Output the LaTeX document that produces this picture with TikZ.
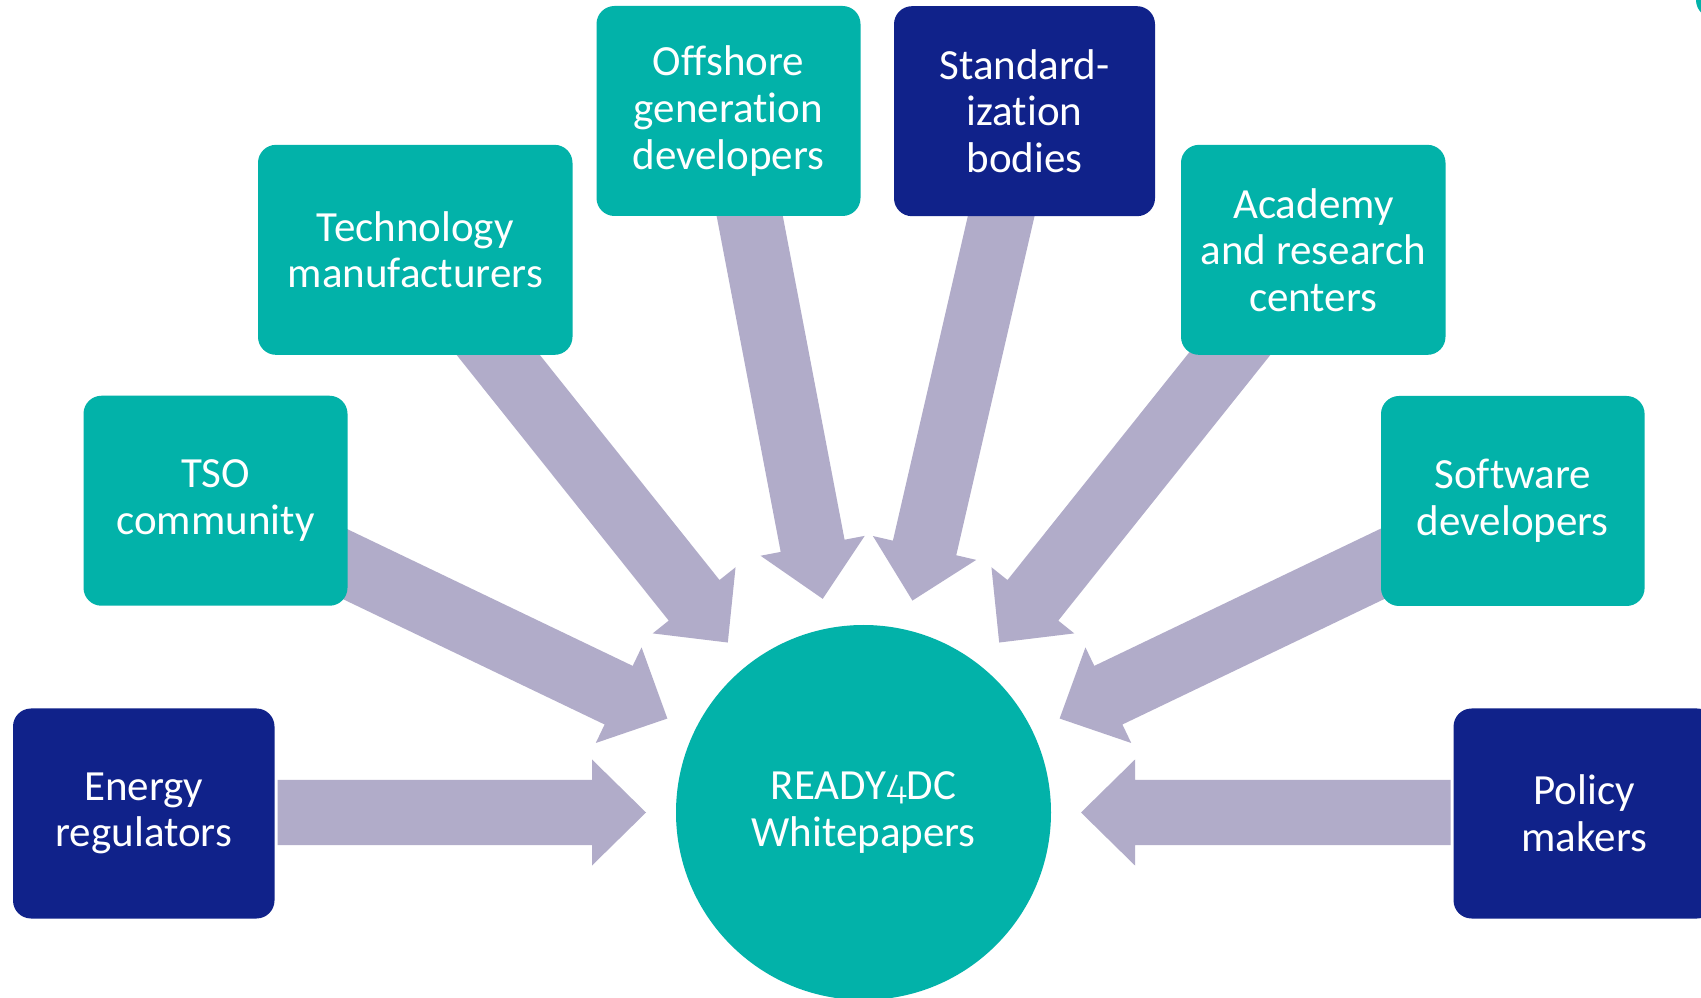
\documentclass[tikz,border=0pt]{standalone}
\usepackage{fontspec}
\setmainfont[RawFeature={-liga;-calt;-dlig;-clig}]{Carlito}
\newfontfamily\oldfig[Numbers=OldStyle]{Fira Sans Light}
\usetikzlibrary{calc}

\definecolor{hubteal}{HTML}{02B2A9}
\definecolor{navyblue}{HTML}{10228A}
\definecolor{lavender}{HTML}{B1ACC9}

\tikzset{
  x=1pt, y=1pt,
  label text/.style={text=white, align=center, inner sep=0pt,
    font=\fontsize{43}{46.6}\selectfont},
  box/.style={label text, rectangle, rounded corners=18pt, minimum height=210pt},
  tealbox/.style={box, fill=hubteal},
  navybox/.style={box, fill=navyblue},
  hubcircle/.style={label text, circle, fill=hubteal, minimum size=375pt},
  spokefill/.style={fill=lavender},
}

% block arrow pointing at the hub: #1 = direction of its tail seen from the hub,
% #2 = distance of the tail from the hub centre
\newcommand\spoke[2]{%
  \fill[spokefill, shift={(hub.center)}, rotate=#1]
    (217.5,0) -- (271.5,53) -- (271.5,32.5) -- (#2,32.5)
    -- (#2,-32.5) -- (271.5,-32.5) -- (271.5,-53) -- cycle;
}

\begin{document}
\begin{tikzpicture}
  \useasboundingbox (0,0) rectangle (1701,997);
  \fill[white] (0,0) rectangle (1701,997);

  % central circle
  \node[hubcircle] (hub) at (863.5,184.5) {READY{\oldfig 4}DC\\Whitepapers};

  % arrows from every group towards the circle
  \spoke{180}{586}
  \spoke{154.4}{595}
  \spoke{128.6}{620}
  \spoke{100.8}{640}
  \spoke{77}{640}
  \spoke{51.4}{620}
  \spoke{25.6}{595}
  \spoke{0}{587.2}

  % stakeholder groups
  \node[navybox, minimum width=261.5pt] (reg)  at (143.75,183.5) {Energy\\regulators};
  \node[tealbox, minimum width=264pt]   (tso)  at (215.5,496.25) {TSO\\community};
  \node[tealbox, minimum width=314.5pt] (tech) at (415.25,747.15) {Technology\\manufacturers};
  \node[tealbox, minimum width=264pt]   (off)  at (728.5,886) {Offshore\\generat\kern0pt ion\\developers};
  \node[navybox, minimum width=261pt]   (std)  at (1024.5,885.8) {Standard-\\izat\kern0pt ion\\bodies};
  \node[tealbox, minimum width=264.5pt] (acad) at (1313.25,747.15) {Academy\\and research\\centers};
  \node[tealbox, minimum width=263.6pt] (soft) at (1512.8,496) {Software\\developers};
  \node[navybox, minimum width=261.5pt] (pol)  at (1584.3,183.5) {Policy\\makers};

  % corner of a neighbouring shape at the top right edge
  \fill[hubteal, rounded corners=18pt] (1696,979) rectangle (1800,1100);
\end{tikzpicture}
\end{document}
